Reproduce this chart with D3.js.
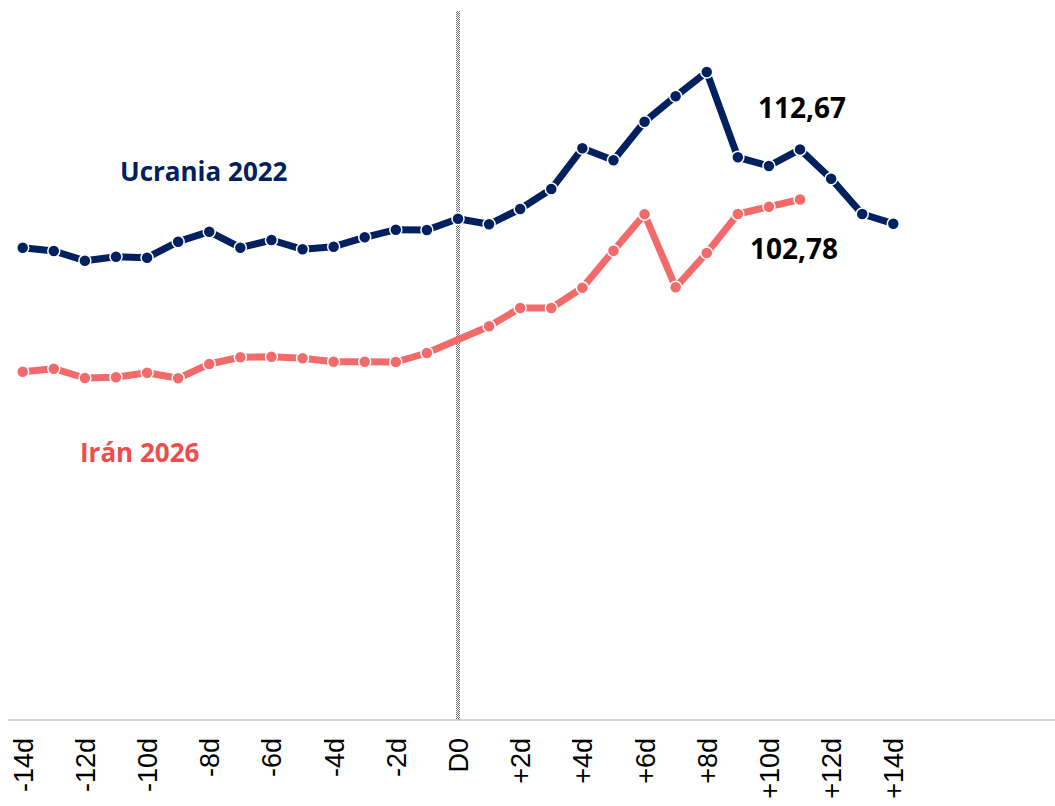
<!DOCTYPE html>
<html>
<head>
<meta charset="utf-8">
<script src="https://cdn.jsdelivr.net/npm/d3@7"></script>
<style>
  body { margin: 0; background: #fff; }
  svg { display: block; }
</style>
</head>
<body>
<div id="chart"></div>
<script>
// days relative to D0
let days = d3.range(-14, 15)

// Brent, Ucrania 2022 (-14d .. +14d)
let ucrania = [93.26, 92.61, 90.69, 91.48, 91.29, 94.45, 96.42, 93.26, 94.78, 92.94,
  93.46, 95.31, 96.82, 96.76, 98.99, 97.88, 100.90, 104.85, 112.89, 110.52,
  118.14, 123.15, 127.95, 111.11, 109.39, 112.67, 106.89, 99.91, 98.00]

// Brent, Irán 2026 (-14d .. +11d), no dato en D0
let iran = [68.78, 69.37, 67.53, 67.67, 68.58, 67.47, 70.30, 71.62, 71.74, 71.42,
  70.75, 70.75, 70.69, 72.47, null, 77.74, 81.35, 81.35, 85.36, 92.67,
  99.86, 85.44, 92.21, 99.91, 101.36, 102.78]

let tickDays = d3.range(-14, 15, 2)

let width = 1055
let height = 806

let svg = d3.select('#chart')
  .append('svg')
  .attr('width', width)
  .attr('height', height)

let x = d3.scaleLinear().domain([-14, 14]).range([22.7, 893.3])
let y = d3.scaleLinear().domain([0, 140]).range([720, 11])

// checkerboard for the D0 line
let defs = svg.append('defs')
let pat = defs.append('pattern')
  .attr('id', 'checker')
  .attr('width', 2)
  .attr('height', 2)
  .attr('patternUnits', 'userSpaceOnUse')
pat.append('rect').attr('width', 1).attr('height', 1).attr('fill', '#6f6f6f')
pat.append('rect').attr('x', 1).attr('y', 1).attr('width', 1).attr('height', 1).attr('fill', '#6f6f6f')

svg.append('rect')
  .attr('x', x(0) - 2)
  .attr('y', y(140))
  .attr('width', 4)
  .attr('height', y(0) - y(140))
  .attr('fill', 'url(#checker)')

// x axis
svg.append('line')
  .attr('x1', 8)
  .attr('x2', width)
  .attr('y1', y(0))
  .attr('y2', y(0))
  .attr('stroke', '#c9c9c9')
  .attr('stroke-width', 1.5)

let xAxis = svg.append('g')
  .attr('transform', 'translate(0,' + y(0) + ')')
  .call(d3.axisBottom(x)
    .tickValues(tickDays)
    .tickSize(0)
    .tickFormat(d => d === 0 ? 'D0' : (d > 0 ? '+' + d + 'd' : d + 'd')))

xAxis.select('.domain').remove()
xAxis.selectAll('text')
  .attr('transform', 'rotate(-90)')
  .attr('x', -18)
  .attr('y', 0)
  .attr('dy', '0.35em')
  .attr('text-anchor', 'end')
  .attr('font-family', '"Liberation Sans", Arial, sans-serif')
  .attr('font-size', 27)
  .attr('fill', '#000')

let series = [
  { name: 'Ucrania 2022', values: ucrania, color: '#002060' },
  { name: 'Irán 2026', values: iran, color: '#f26a6a' }
]

let line = d3.line()
  .x(d => x(d.day))
  .y(d => y(d.value))

series.forEach(s => {
  let pts = s.values
    .map((v, i) => ({ day: days[i], value: v }))
    .filter(d => d.value !== null)

  svg.append('path')
    .datum(pts)
    .attr('d', line)
    .attr('fill', 'none')
    .attr('stroke', s.color)
    .attr('stroke-width', 7)
    .attr('stroke-linejoin', 'round')

  svg.append('g')
    .selectAll('circle')
    .data(pts)
    .enter().append('circle')
    .attr('cx', d => x(d.day))
    .attr('cy', d => y(d.value))
    .attr('r', 6)
    .attr('fill', s.color)
    .attr('stroke', '#fff')
    .attr('stroke-width', 1.5)
})

// series labels
svg.append('text')
  .attr('x', 120)
  .attr('y', 181)
  .attr('font-family', '"Open Sans", sans-serif')
  .attr('font-weight', 'bold')
  .attr('font-size', 26)
  .attr('fill', '#002060')
  .text('Ucrania 2022')

svg.append('text')
  .attr('x', 80)
  .attr('y', 462)
  .attr('font-family', '"Open Sans", sans-serif')
  .attr('font-weight', 'bold')
  .attr('font-size', 26)
  .attr('fill', '#ef4c4c')
  .text('Irán 2026')

// last values
svg.append('text')
  .attr('x', x(11) + 2)
  .attr('y', y(ucrania[25]) - 31)
  .attr('text-anchor', 'middle')
  .attr('font-family', '"Open Sans", sans-serif')
  .attr('font-weight', 'bold')
  .attr('font-size', 28)
  .attr('fill', '#000')
  .text('112,67')

svg.append('text')
  .attr('x', x(11) - 6)
  .attr('y', y(iran[25]) + 60)
  .attr('text-anchor', 'middle')
  .attr('font-family', '"Open Sans", sans-serif')
  .attr('font-weight', 'bold')
  .attr('font-size', 28)
  .attr('fill', '#000')
  .text('102,78')
</script>
</body>
</html>
